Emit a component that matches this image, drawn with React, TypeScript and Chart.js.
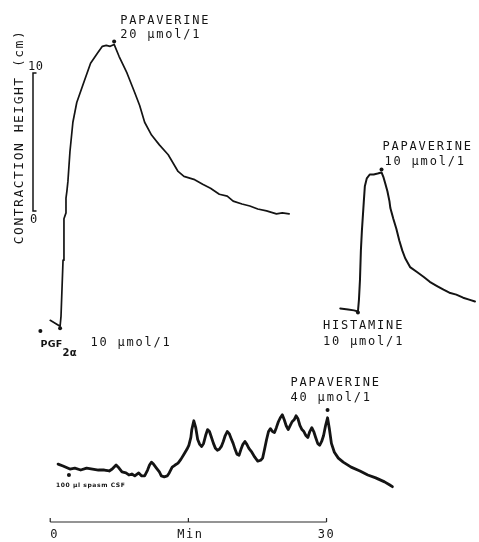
import React, { useEffect, useRef } from "react";
import { Chart, registerables } from "chart.js";

Chart.register(...registerables);

// ---- Trace 1: PGF2α 10 µmol/l, papaverine 20 µmol/l (time in min, height in cm on the calibration bar)
const pgfTime = [
  0.0, 0.53, 1.07, 1.17, 1.39, 1.49, 1.71, 1.71, 1.81, 1.92,
  2.14, 2.46, 2.88, 3.63, 4.38, 5.12, 5.66, 6.08, 6.51, 6.94,
  7.47, 8.33, 9.18, 9.71, 10.25, 11.0, 11.85, 12.81, 13.88, 14.52,
  15.59, 16.55, 17.4, 18.36, 19.22, 19.86, 20.82, 21.67, 22.53, 23.49,
  24.56, 25.2, 25.94,
];
const pgfHeight = [
  -7.93, -8.14, -8.36, -7.64, -3.57, -0.57, -0.14, 0.93, 1.43, 2.14,
  4.29, 6.43, 7.86, 9.29, 10.71, 11.43, 11.93, 12.0, 11.93, 12.07,
  11.21, 10.0, 8.57, 7.64, 6.43, 5.5, 4.79, 4.07, 2.86, 2.5,
  2.29, 1.93, 1.64, 1.21, 1.07, 0.71, 0.5, 0.36, 0.14, 0.0,
  -0.21, -0.14, -0.21,
];
const pgfEventTime = [-1.07, 1.07, 6.94];
const pgfEventHeight = [-8.71, -8.5, 12.29];

// ---- Trace 2: histamine 10 µmol/l, papaverine 10 µmol/l
const histTime = [
  0.0, 0.85, 1.49, 1.92, 2.03, 2.14, 2.24, 2.35, 2.56, 2.67,
  2.88, 3.2, 3.63, 4.06, 4.48, 4.7, 4.91, 5.12, 5.34, 5.44,
  5.76, 6.09, 6.41, 6.73, 7.05, 7.58, 8.33, 9.07, 9.72, 10.46,
  11.21, 11.85, 12.6, 13.34, 13.99, 14.63,
];
const histHeight = [
  -7.07, -7.14, -7.21, -7.29, -6.43, -5.0, -2.86, -1.43, 0.71, 1.79,
  2.36, 2.64, 2.64, 2.71, 2.79, 2.43, 1.93, 1.43, 0.71, 0.21,
  -0.57, -1.29, -2.14, -2.86, -3.43, -4.07, -4.43, -4.79, -5.14, -5.43,
  -5.71, -5.93, -6.07, -6.29, -6.43, -6.57,
];
const histEventTime = [1.92, 4.48];
const histEventHeight = [-7.36, 3.0];

// ---- Trace 3: 100 µl spasm CSF, papaverine 40 µmol/l
const csfTime = [
  0.85, 1.39, 2.14, 2.67, 3.31, 3.95, 4.59, 5.23, 5.87, 6.41,
  6.73, 7.15, 7.47, 7.79, 8.22, 8.54, 8.86, 9.18, 9.61, 9.93,
  10.25, 10.57, 10.78, 11.0, 11.21, 11.53, 11.85, 12.06, 12.38, 12.7,
  12.92, 13.24, 13.56, 13.88, 14.2, 14.52, 14.84, 15.05, 15.27, 15.37,
  15.59, 15.8, 16.01, 16.23, 16.44, 16.65, 16.87, 17.08, 17.29, 17.51,
  17.72, 17.94, 18.15, 18.36, 18.58, 18.79, 19.0, 19.22, 19.43, 19.64,
  19.86, 20.07, 20.28, 20.5, 20.71, 20.92, 21.14, 21.35, 21.57, 21.89,
  22.21, 22.53, 22.85, 23.06, 23.27, 23.49, 23.7, 23.91, 24.13, 24.34,
  24.55, 24.77, 24.98, 25.2, 25.41, 25.62, 25.84, 26.05, 26.26, 26.48,
  26.69, 26.9, 27.12, 27.33, 27.54, 27.76, 27.97, 28.18, 28.4, 28.61,
  28.82, 29.04, 29.25, 29.47, 29.68, 29.89, 30.11, 30.32, 30.53, 30.85,
  31.28, 31.81, 32.67, 33.63, 34.48, 35.34, 36.3, 36.83, 37.15,
];
const csfHeight = [
  0.43, 0.29, 0.07, 0.14, 0.0, 0.14, 0.07, 0.0, 0.0, -0.07,
  0.07, 0.36, 0.14, -0.14, -0.21, -0.36, -0.29, -0.43, -0.21, -0.43,
  -0.43, 0.0, 0.36, 0.57, 0.43, 0.14, -0.14, -0.43, -0.5, -0.43,
  -0.21, 0.21, 0.36, 0.5, 0.79, 1.14, 1.5, 1.79, 2.36, 2.93,
  3.57, 3.07, 2.21, 1.86, 1.71, 1.93, 2.5, 2.93, 2.79, 2.36,
  1.93, 1.57, 1.43, 1.5, 1.71, 2.07, 2.5, 2.79, 2.64, 2.29,
  1.93, 1.5, 1.14, 1.07, 1.5, 1.86, 2.07, 1.86, 1.57, 1.29,
  0.93, 0.64, 0.71, 0.86, 1.5, 2.21, 2.79, 3.0, 2.79, 2.71,
  3.07, 3.5, 3.79, 4.0, 3.64, 3.21, 2.93, 3.21, 3.5, 3.64,
  3.93, 3.71, 3.21, 2.93, 2.79, 2.5, 2.36, 2.79, 3.07, 2.79,
  2.36, 1.93, 1.79, 2.07, 2.5, 3.21, 3.79, 2.93, 1.93, 1.29,
  0.86, 0.57, 0.21, -0.07, -0.36, -0.57, -0.86, -1.07, -1.21,
];
const csfEventTime = [2.03, 30.11];
const csfEventHeight = [-0.36, 4.36];

// ---- Axes / annotations
const calibrationTicks = [0, 10];
const calibrationLabels = ["0", "10"];
const timeTicks = [0, 15, 30];
const timeTickLabels = ["0", "Min", "30"];
const yAxisTitle = "CONTRACTION HEIGHT (cm)";

const INK = "#141414";
const MONO = "DejaVu Sans Mono";

const annotationPlugin = {
  id: "figureAnnotations",
  afterDatasetsDraw(chart: any) {
    const ctx: CanvasRenderingContext2D = chart.ctx;
    const s = chart.scales;
    const X = (v: number) => s.x.getPixelForValue(v);
    const X2 = (v: number) => s.x2.getPixelForValue(v);
    const Y = (v: number) => s.y.getPixelForValue(v);
    const Y3 = (v: number) => s.y3.getPixelForValue(v);

    const text = (str: string, x: number, y: number, font: string, spacing = "0px") => {
      ctx.font = font;
      (ctx as any).letterSpacing = spacing;
      ctx.fillText(str, x, y);
    };

    ctx.save();
    ctx.fillStyle = INK;
    ctx.strokeStyle = INK;
    ctx.textBaseline = "alphabetic";
    ctx.textAlign = "left";

    // calibration bar (0..10 cm)
    const calX = 33;
    const c0 = Y(calibrationTicks[0]);
    const c1 = Y(calibrationTicks[1]);
    ctx.lineWidth = 1.5;
    ctx.beginPath();
    ctx.moveTo(calX + 3.5, c1);
    ctx.lineTo(calX, c1);
    ctx.lineTo(calX, c0);
    ctx.lineTo(calX + 3.5, c0);
    ctx.stroke();
    const f11 = `12px "${MONO}"`;
    text(calibrationLabels[1], 28, c1 - 3, f11, "0.5px");
    text(calibrationLabels[0], 30, c0 + 12, f11);

    // rotated y title
    ctx.save();
    ctx.translate(22.5, 137);
    ctx.rotate(-Math.PI / 2);
    ctx.textAlign = "center";
    text(yAxisTitle, 0, 0, `13px "${MONO}"`, "1.5px");
    ctx.restore();

    // time bar
    const tb = 522;
    ctx.lineWidth = 1.2;
    ctx.strokeStyle = "#2a2a2a";
    ctx.beginPath();
    ctx.moveTo(X(timeTicks[0]), tb);
    ctx.lineTo(X(timeTicks[timeTicks.length - 1]), tb);
    timeTicks.forEach((t) => {
      ctx.moveTo(X(t), tb);
      ctx.lineTo(X(t), tb - 4);
    });
    ctx.stroke();
    const tickFont = `12px "${MONO}"`;
    text(timeTickLabels[0], X(timeTicks[0]), 538, tickFont);
    ctx.textAlign = "center";
    text(timeTickLabels[1], X(timeTicks[1]) + 2, 538, tickFont, "1.5px");
    text(timeTickLabels[2], X(timeTicks[2]), 538, tickFont, "1.5px");
    ctx.textAlign = "left";

    const labFont = `12px "${MONO}"`;
    const sp = "1.8px";

    // trace 1 labels
    const p1x = X(pgfEventTime[2]);
    const p1y = Y(pgfEventHeight[2]);
    text("PAPAVERINE", p1x + 6, p1y - 17, labFont, sp);
    text("20 µmol/1", p1x + 6, p1y - 3, labFont, sp);
    const gx = X(pgfEventTime[0]);
    const gy = Y(pgfEventHeight[0]);
    text("PGF", gx, gy + 16, `bold 9.5px "DejaVu Sans"`, "0.3px");
    text("2α", gx + 22, gy + 25, `bold 10px "DejaVu Sans"`, "0.5px");
    text("10 µmol/1", gx + 50, gy + 15, labFont, sp);

    // trace 2 labels
    const p2x = X2(histEventTime[1]);
    const p2y = Y(histEventHeight[1]);
    text("PAPAVERINE", p2x + 1, p2y - 20, labFont, sp);
    text("10 µmol/1", p2x + 3, p2y - 5, labFont, sp);
    const hx = X2(histEventTime[0]);
    const hy = Y(histEventHeight[0]);
    text("HISTAMINE", hx - 35, hy + 17, labFont, sp);
    text("10 µmol/1", hx - 35, hy + 33, labFont, sp);

    // trace 3 labels
    const p3x = X(csfEventTime[1]);
    const p3y = Y3(csfEventHeight[1]);
    text("PAPAVERINE", p3x - 37, p3y - 24, labFont, sp);
    text("40 µmol/1", p3x - 37, p3y - 9, labFont, sp);
    const cx = X(csfEventTime[0]);
    const cy = Y3(csfEventHeight[0]);
    text("100 µl spasm CSF", cx - 13, cy + 12, `bold 6px "DejaVu Sans"`, "0.6px");

    ctx.restore();
  },
};

const line = (t: number[], v: number[], xAxisID: string, yAxisID: string, width: number) => ({
  type: "line" as const,
  data: t.map((x, i) => ({ x, y: v[i] })),
  xAxisID,
  yAxisID,
  borderColor: INK,
  borderWidth: width,
  borderJoinStyle: "round" as const,
  borderCapStyle: "round" as const,
  pointRadius: 0,
  tension: 0,
  fill: false,
  clip: false as any,
});

const dots = (t: number[], v: number[], xAxisID: string, yAxisID: string) => ({
  type: "scatter" as const,
  data: t.map((x, i) => ({ x, y: v[i] })),
  xAxisID,
  yAxisID,
  backgroundColor: INK,
  borderWidth: 0,
  pointRadius: 2,
  showLine: false,
  clip: false as any,
});

export default function App() {
  const ref = useRef<HTMLCanvasElement | null>(null);

  useEffect(() => {
    if (!ref.current) return;
    const chart = new Chart(ref.current, {
      type: "line",
      data: {
        datasets: [
          line(pgfTime, pgfHeight, "x", "y", 1.7),
          line(histTime, histHeight, "x2", "y", 2),
          line(csfTime, csfHeight, "x", "y3", 2.8),
          dots(pgfEventTime, pgfEventHeight, "x", "y"),
          dots(histEventTime, histEventHeight, "x2", "y"),
          dots(csfEventTime, csfEventHeight, "x", "y3"),
        ] as any,
      },
      options: {
        responsive: false,
        animation: false,
        events: [],
        layout: { padding: 0 },
        plugins: { legend: { display: false }, tooltip: { enabled: false }, title: { display: false } },
        scales: {
          x: { type: "linear", display: false, min: -5.02, max: 46.12 },
          x2: { type: "linear", axis: "x", display: false, min: -36.51, max: 14.63 },
          y: { type: "linear", display: false, min: -23.71, max: 15.0 },
          y3: { type: "linear", axis: "y", display: false, min: -4.93, max: 33.79 },
        } as any,
      },
      plugins: [annotationPlugin],
    });
    return () => chart.destroy();
  }, []);

  return (
    <div style={{ position: "absolute", left: 0, top: 0, width: 479, height: 542, background: "#fff" }}>
      <canvas ref={ref} width={479} height={542} style={{ display: "block" }} />
    </div>
  );
}
